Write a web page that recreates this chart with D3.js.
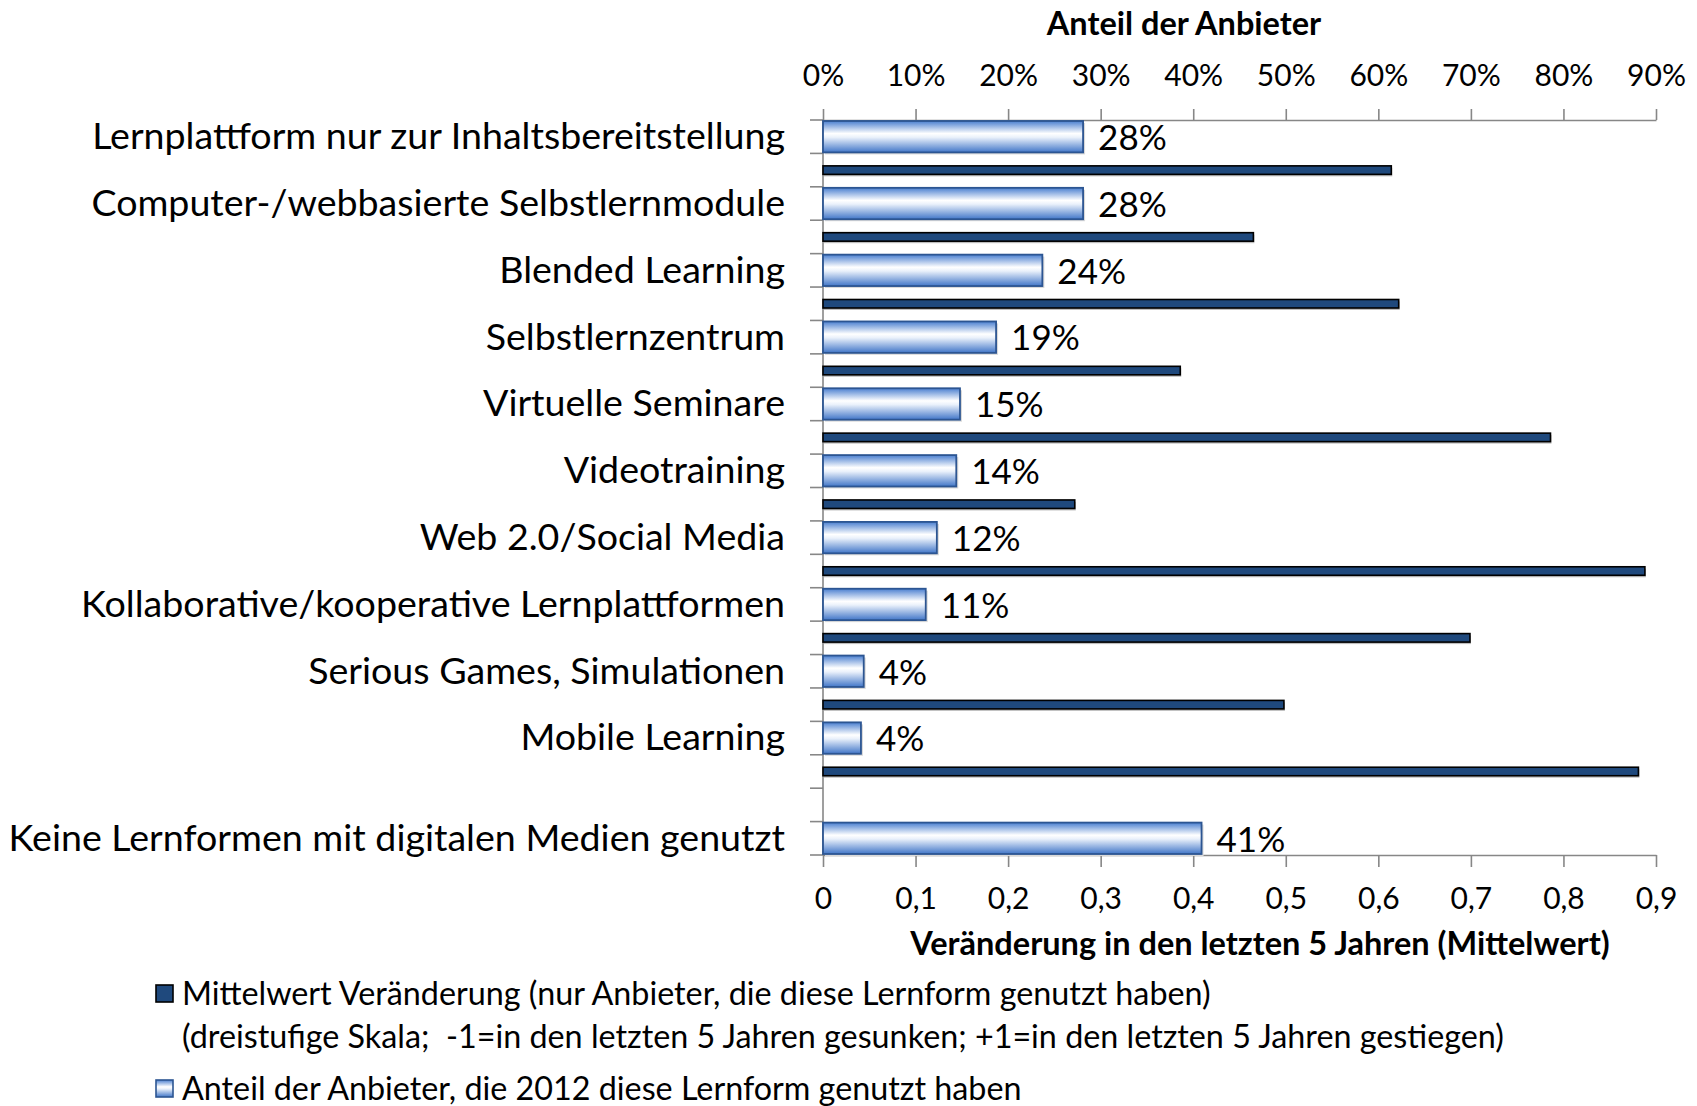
<!DOCTYPE html>
<html>
<head>
<meta charset="utf-8">
<script src="https://cdn.jsdelivr.net/npm/d3@7"></script>
<style>
    body { margin: 0; background: #fff; }
    text { font-family: Lato, "Open Sans", sans-serif; fill: #000; white-space: pre; }
</style>
</head>
<body>
<div id="chart"></div>
<script>

// categories, top to bottom
var categories = [
    "Lernplattform nur zur Inhaltsbereitstellung",
    "Computer-/webbasierte Selbstlernmodule",
    "Blended Learning",
    "Selbstlernzentrum",
    "Virtuelle Seminare",
    "Videotraining",
    "Web 2.0/Social Media",
    "Kollaborative/kooperative Lernplattformen",
    "Serious Games, Simulationen",
    "Mobile Learning",
    "Keine Lernformen mit digitalen Medien genutzt"
];

// Anteil der Anbieter, die 2012 diese Lernform genutzt haben
var share = [0.281, 0.281, 0.237, 0.187, 0.148, 0.144, 0.123, 0.111, 0.044, 0.041, 0.409];

// Mittelwert Veränderung (no value for the last category)
var change = [0.614, 0.465, 0.622, 0.386, 0.786, 0.272, 0.888, 0.699, 0.498, 0.881, null];

var topTicks = [0, 0.1, 0.2, 0.3, 0.4, 0.5, 0.6, 0.7, 0.8, 0.9];
var bottomTicks = [0, 0.1, 0.2, 0.3, 0.4, 0.5, 0.6, 0.7, 0.8, 0.9];

var legendLabels = [
    ["Mittelwert Veränderung (nur Anbieter, die diese Lernform genutzt haben)",
     "(dreistufige Skala;  -1=in den letzten 5 Jahren gesunken; +1=in den letzten 5 Jahren gestiegen)"],
    ["Anteil der Anbieter, die 2012 diese Lernform genutzt haben"]
];

var width = 1697;
var height = 1106;

var svg = d3.select('#chart')
    .append('svg')
        .attr('width', width)
        .attr('height', height);

var defs = svg.append('defs');

var grad = defs.append('linearGradient')
    .attr('id', 'lightGrad')
    .attr('x1', 0).attr('y1', 0)
    .attr('x2', 0).attr('y2', 1);
grad.append('stop').attr('offset', '0%').attr('stop-color', '#4a7fd0');
grad.append('stop').attr('offset', '40%').attr('stop-color', '#ffffff');
grad.append('stop').attr('offset', '52%').attr('stop-color', '#eaf1fb');
grad.append('stop').attr('offset', '100%').attr('stop-color', '#4176c8');

// 22 half slots: light bar, dark bar per category, one empty slot before the last one
var nSlots = categories.length * 2;
function lightSlot(i) {
    return i < categories.length - 1 ? i * 2 : nSlots - 1;
}

var x = d3.scaleLinear()
    .domain([0, 0.9])
    .range([823, 1656]);

var y = d3.scaleBand()
    .domain(d3.range(nSlots))
    .range([120, 855])
    .padding(0);

var axisColor = '#878787';

// top axis (share)
var topAxis = svg.append('g')
    .attr('transform', 'translate(0,120)')
    .call(d3.axisTop(x)
        .tickValues(topTicks)
        .tickSize(11)
        .tickSizeOuter(0)
        .tickFormat(d3.format('.0%')));

// bottom axis (change)
var bottomAxis = svg.append('g')
    .attr('transform', 'translate(0,855)')
    .call(d3.axisBottom(x)
        .tickValues(bottomTicks)
        .tickSize(12)
        .tickSizeOuter(0)
        .tickFormat(d => d === 0 ? '0' : d3.format('.1f')(d).replace('.', ',')));

[topAxis, bottomAxis].forEach(function(a) {
    a.selectAll('path, line')
        .attr('stroke', axisColor)
        .attr('stroke-width', 1.6);
    a.selectAll('text')
        .style('font-size', '30px')
        .attr('fill', '#000');
});
topAxis.selectAll('text').attr('y', -34).attr('dy', 0);
bottomAxis.selectAll('text').attr('y', 54).attr('dy', 0);

// left category axis
var leftAxis = svg.append('g');
leftAxis.append('line')
    .attr('x1', x(0)).attr('x2', x(0))
    .attr('y1', 120).attr('y2', 855)
    .attr('stroke', axisColor)
    .attr('stroke-width', 1.6);
leftAxis.selectAll('.tick')
    .data(d3.range(nSlots + 1))
    .enter()
    .append('line')
        .attr('x1', x(0) - 13).attr('x2', x(0))
        .attr('y1', d => 120 + d * y.step())
        .attr('y2', d => 120 + d * y.step())
        .attr('stroke', axisColor)
        .attr('stroke-width', 1.6);

// light bars
var lightBars = svg.append('g');

lightBars.selectAll('.shadow')
    .data(share)
    .enter()
    .append('rect')
        .attr('x', x(0) + 2)
        .attr('y', (d, i) => y(lightSlot(i)) + 3)
        .attr('width', d => x(d) - x(0))
        .attr('height', y.bandwidth() - 2)
        .attr('fill', '#d9d9d9');

lightBars.selectAll('.bar')
    .data(share)
    .enter()
    .append('rect')
        .attr('x', x(0))
        .attr('y', (d, i) => y(lightSlot(i)) + 1)
        .attr('width', d => x(d) - x(0))
        .attr('height', y.bandwidth() - 2)
        .attr('fill', 'url(#lightGrad)')
        .attr('stroke', '#2c5592')
        .attr('stroke-width', 1.8);

lightBars.selectAll('.value')
    .data(share)
    .enter()
    .append('text')
        .attr('x', d => x(d) + 15)
        .attr('y', (d, i) => y(lightSlot(i)) + y.bandwidth() / 2)
        .attr('dy', '0.38em')
        .style('font-size', '35px')
        .text(d => Math.round(d * 100) + '%');

// dark bars
var darkH = 8.5;
var darkData = change
    .map((d, i) => ({ v: d, slot: i * 2 + 1 }))
    .filter(d => d.v !== null);

var darkBars = svg.append('g');

darkBars.selectAll('.shadow')
    .data(darkData)
    .enter()
    .append('rect')
        .attr('x', x(0) + 1)
        .attr('y', d => y(d.slot) + (y.bandwidth() - darkH) / 2 + 2)
        .attr('width', d => x(d.v) - x(0))
        .attr('height', darkH)
        .attr('fill', '#bdbdbd');

darkBars.selectAll('.bar')
    .data(darkData)
    .enter()
    .append('rect')
        .attr('x', x(0))
        .attr('y', d => y(d.slot) + (y.bandwidth() - darkH) / 2)
        .attr('width', d => x(d.v) - x(0))
        .attr('height', darkH)
        .attr('fill', '#1f497d')
        .attr('stroke', '#000')
        .attr('stroke-width', 1.6);

// category labels
svg.append('g')
    .selectAll('text')
    .data(categories)
    .enter()
    .append('text')
        .attr('x', 785)
        .attr('y', (d, i) => y(lightSlot(i)) + y.bandwidth() / 2)
        .attr('dy', '0.33em')
        .attr('text-anchor', 'end')
        .style('font-size', '37.6px')
        .text(d => d);

// axis titles
svg.append('text')
    .attr('x', 1184)
    .attr('y', 35)
    .attr('text-anchor', 'middle')
    .style('font-size', '32.5px')
    .style('font-weight', 'bold')
    .text('Anteil der Anbieter');

svg.append('text')
    .attr('x', 1260)
    .attr('y', 955)
    .attr('text-anchor', 'middle')
    .style('font-size', '32.5px')
    .style('font-weight', 'bold')
    .text('Veränderung in den letzten 5 Jahren (Mittelwert)');

// legend
var legendRows = [
    { fill: '#1f497d', stroke: '#000', y: 994, lines: legendLabels[0] },
    { fill: 'url(#lightGrad)', stroke: '#2c5592', y: 1089, lines: legendLabels[1] }
];

var legend = svg.append('g');

var legendRow = legend.selectAll('.legendRow')
    .data(legendRows)
    .enter()
    .append('g')
        .attr('transform', d => 'translate(0,' + d.y + ')');

legendRow.append('rect')
    .attr('x', 156)
    .attr('y', -9)
    .attr('width', 17)
    .attr('height', 17)
    .attr('fill', d => d.fill)
    .attr('stroke', d => d.stroke)
    .attr('stroke-width', 1.6);

legendRow.selectAll('text')
    .data(d => d.lines)
    .enter()
    .append('text')
        .attr('x', 182)
        .attr('y', (d, i) => i * 43)
        .attr('dy', '0.35em')
        .style('font-size', '32.3px')
        .text(d => d);

</script>
</body>
</html>
